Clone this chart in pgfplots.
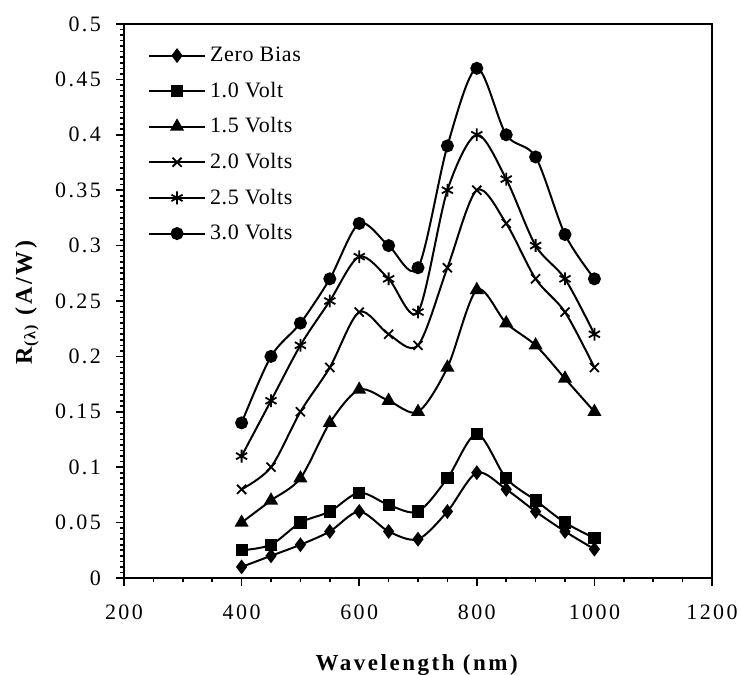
\documentclass[border=0pt]{standalone}
\usepackage{pgfplots}
\pgfplotsset{compat=1.18}
\usepackage{fontspec}
\setmainfont[LetterSpace=11]{Liberation Serif}
\newfontfamily\legfont[LetterSpace=3]{Liberation Serif}

\begin{document}
\begin{tikzpicture}
\begin{axis}[
    name=ax,
    scale only axis,
    width=294pt,
    height=277pt,
    xmin=200, xmax=1200,
    ymin=0, ymax=0.5,
    xtick={200,400,600,800,1000,1200},
    ytick={0,0.05,0.1,0.15,0.2,0.25,0.3,0.35,0.4,0.45,0.5},
    minor x tick num=3,
    minor y tick num=9,
    xtick pos=left, ytick pos=left,
    tick align=outside,
    major tick length=4pt,
    minor tick length=2pt,
    axis line style={line width=1.2pt},
    every tick/.style={black, line width=0.8pt},
    scaled y ticks=false,
    /pgf/number format/assume math mode=true,
    yticklabel style={/pgf/number format/fixed, /pgf/number format/precision=2, xshift=-4pt},
    xticklabel style={/pgf/number format/set thousands separator={}, yshift=-6pt},
    tick label style={font=\fontsize{11}{13}\selectfont},
    xlabel={\textbf{Wavelength (nm)}},
    ylabel={\textbf{R\textsubscript{(λ)} (A/W)}},
    xlabel style={at={(axis description cs:0.5,-0.158)}, anchor=center, font=\fontsize{11.5}{13}\selectfont},
    ylabel style={at={(axis description cs:-0.165,0.5)}, anchor=center, font=\fontsize{12}{14}\selectfont},
    legend style={at={(0.03,0.974)}, anchor=north west, draw=none, fill=none,
        font=\legfont\fontsize{11}{12}\selectfont, row sep=4.7pt,
        cells={anchor=west}},
    legend image code/.code={%
        \draw[mark repeat=2,mark phase=2,#1] plot coordinates {(0pt,0pt) (14pt,0pt) (28pt,0pt)};},
    every axis plot/.append style={black, line width=1pt, smooth, tension=0.5,
        mark options={solid, line width=0.9pt}},
]
\addplot[mark=diamond*, mark size=3pt] coordinates {
    (400,0.010) (450,0.020) (500,0.030) (550,0.042) (600,0.060) (650,0.042) (700,0.035)
    (750,0.060) (800,0.095) (850,0.080) (900,0.060) (950,0.042) (1000,0.026)
};
\addlegendentry{Zero Bias}
\addplot[mark=square*, mark size=2.6pt] coordinates {
    (400,0.025) (450,0.030) (500,0.050) (550,0.060) (600,0.077) (650,0.066) (700,0.060)
    (750,0.090) (800,0.130) (850,0.090) (900,0.070) (950,0.050) (1000,0.036)
};
\addlegendentry{1.0 Volt}
\addplot[mark=triangle*, mark size=3.2pt] coordinates {
    (400,0.050) (450,0.070) (500,0.090) (550,0.140) (600,0.170) (650,0.160) (700,0.150)
    (750,0.190) (800,0.260) (850,0.230) (900,0.210) (950,0.180) (1000,0.150)
};
\addlegendentry{1.5 Volts}
\addplot[mark=x, mark size=3.2pt] coordinates {
    (400,0.080) (450,0.100) (500,0.150) (550,0.190) (600,0.240) (650,0.220) (700,0.210)
    (750,0.280) (800,0.350) (850,0.320) (900,0.270) (950,0.240) (1000,0.190)
};
\addlegendentry{2.0 Volts}
\addplot[mark=asterisk, mark size=3.2pt] coordinates {
    (400,0.110) (450,0.160) (500,0.210) (550,0.250) (600,0.290) (650,0.270) (700,0.240)
    (750,0.350) (800,0.400) (850,0.360) (900,0.300) (950,0.270) (1000,0.220)
};
\addlegendentry{2.5 Volts}
\addplot[mark=*, mark size=2.8pt] coordinates {
    (400,0.140) (450,0.200) (500,0.230) (550,0.270) (600,0.320) (650,0.300) (700,0.280)
    (750,0.390) (800,0.460) (850,0.400) (900,0.380) (950,0.310) (1000,0.270)
};
\addlegendentry{3.0 Volts}
\end{axis}
\pgfresetboundingbox
\path (ax.south west) ++(-62pt,-48.5pt) coordinate (bl);
\path (ax.north east) ++(14.5pt,12pt) coordinate (tr);
\useasboundingbox (bl) rectangle (tr);
\end{tikzpicture}
\end{document}
